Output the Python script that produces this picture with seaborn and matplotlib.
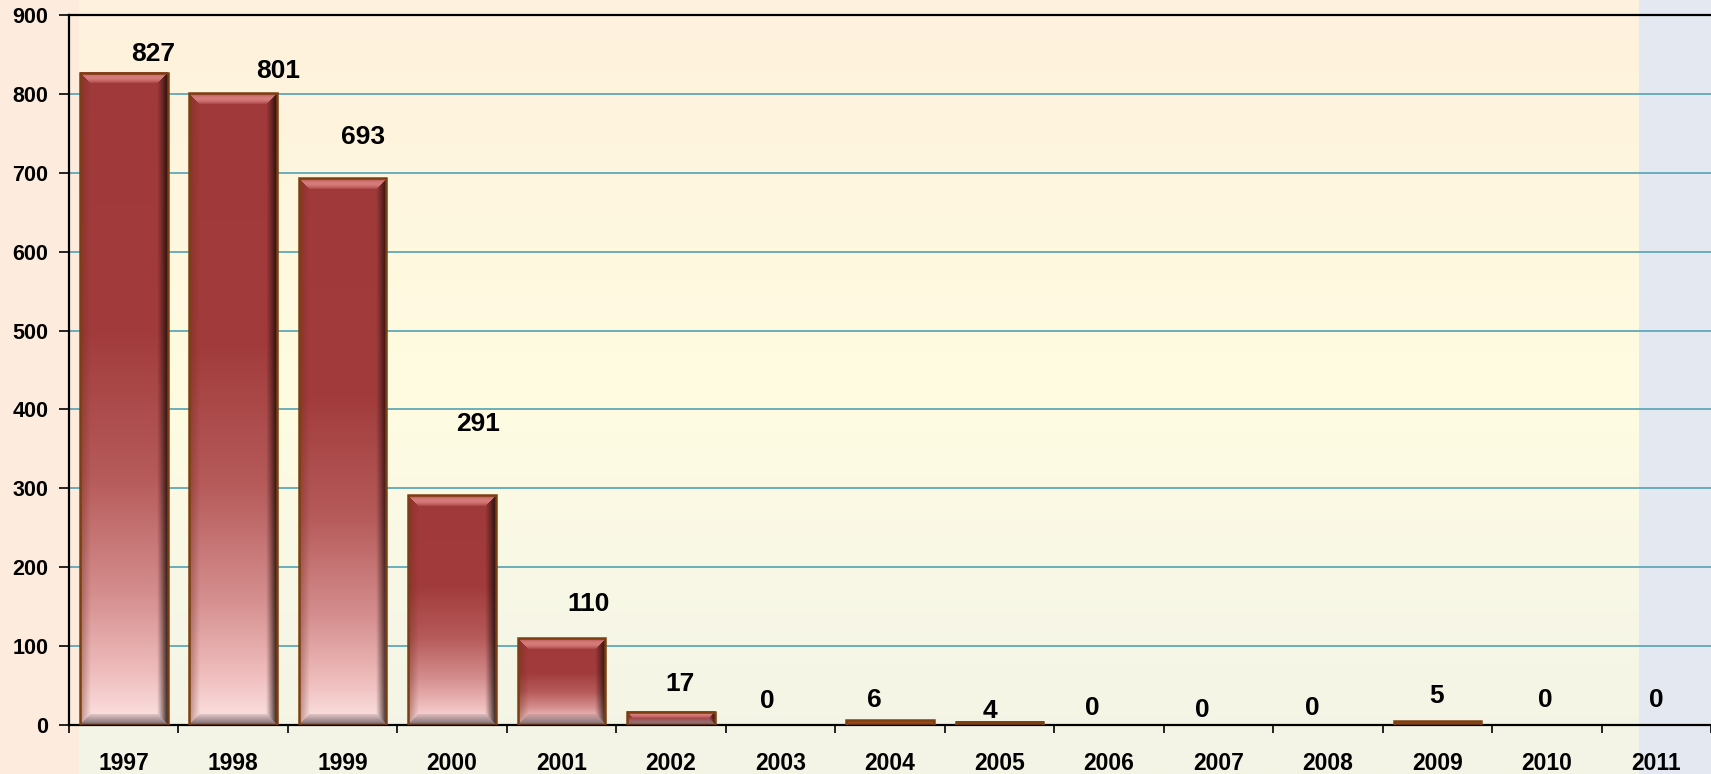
import numpy as np
import pandas as pd
import matplotlib
matplotlib.use("Agg")
import matplotlib.pyplot as plt
from matplotlib.colors import to_rgb
from matplotlib.patches import Rectangle
import seaborn as sns

# ---- data ----
years = ["1997", "1998", "1999", "2000", "2001", "2002", "2003", "2004",
         "2005", "2006", "2007", "2008", "2009", "2010", "2011"]
counts = [827, 801, 693, 291, 110, 17, 0, 6, 4, 0, 0, 0, 5, 0, 0]
y_ticks = [0, 100, 200, 300, 400, 500, 600, 700, 800, 900]

# value-label offsets from the top centre of each bar (pixels)
label_dx = [29, 45, 20, 26, 27, 9, -13, -16, -10, -17, -16, -16, -1, -1, 0]
label_dy = [21, 24, 43, 73, 36, 30, 26, 22, 13, 19, 17, 19, 27, 27, 27]

W_PX, H_PX, DPI = 1711, 774, 100
FONT = ["Liberation Sans", "DejaVu Sans"]

sns.set_theme(style="white")
plt.rcParams["font.family"] = FONT
plt.rcParams["font.weight"] = "bold"

fig = plt.figure(figsize=(W_PX / DPI, H_PX / DPI), dpi=DPI)
fig.patch.set_facecolor("#FDECDD")

# ---- slide background ----
bg = fig.add_axes([0, 0, 1, 1])
bg.set_zorder(0)
bg.set_xlim(0, W_PX)
bg.set_ylim(0, H_PX)
bg.axis("off")


def ramp(stops, n):
    pos = np.array([s[0] for s in stops])
    cols = np.array([to_rgb(s[1]) for s in stops])
    t = np.linspace(0, 1, n)
    return np.stack([np.interp(t, pos, cols[:, k]) for k in range(3)], axis=-1)


grad = ramp([(0.0, "#FEF1DD"), (0.5, "#FFFCE1"), (0.85, "#F6F6E7"),
             (1.0, "#F4F4E6")], 256)
bg.imshow(grad[:, None, :], extent=[79, 1639, 0, H_PX], aspect="auto",
          origin="upper", interpolation="bilinear")
bg.add_patch(Rectangle((1639, 0), W_PX - 1639, H_PX, color="#E4E9F1", lw=0))
bg.set_xlim(0, W_PX)
bg.set_ylim(0, H_PX)

# ---- chart axes ----
ax = fig.add_axes([69 / W_PX, 49 / H_PX, (W_PX - 69) / W_PX, (725 - 15) / H_PX])
ax.set_zorder(1)
ax.patch.set_visible(False)

df = pd.DataFrame({"year": years, "count": counts})
sns.barplot(data=df, x="year", y="count", ax=ax, width=0.8,
            color="#A03C3C", saturation=1)
ax.set_xlim(-0.5, len(years) - 0.5)
ax.set_ylim(0, 900)

BASE_STOPS = [(0.0, "#A03A3A"), (0.4, "#A23C3C"), (0.62, "#B65A5A"),
              (0.8, "#D58E8E"), (0.92, "#EFBDBD"), (1.0, "#FDE4E4")]


def bar_image(wpx, hpx, bevel=11):
    H = max(int(round(hpx)), 1)
    W = max(int(round(wpx)), 1)
    if H < 8:
        # very short bars read as a flat brown strip
        img = np.ones((H, W, 3)) * np.array(to_rgb("#9A4A1E"))
        return img
    base = ramp(BASE_STOPS, H)
    img = np.repeat(base[:, None, :], W, axis=1)
    i = np.arange(H)[:, None] + 0.5
    j = np.arange(W)[None, :] + 0.5
    dt = np.broadcast_to(i, (H, W))
    db = np.broadcast_to(H - i, (H, W))
    dl = np.broadcast_to(j, (H, W))
    dr = np.broadcast_to(W - j, (H, W))
    d = np.stack([dt, db, dl, dr])
    side = d.argmin(axis=0)
    dmin = d.min(axis=0)
    bb = max(min(bevel, H / 2, W / 2), 0.5)
    f = np.clip(dmin / bb, 0, 1)
    inside = dmin < bb

    def mix(mask, col, amt):
        c = np.array(to_rgb(col))
        a = np.where(mask, amt, 0.0)[..., None]
        return img * (1 - a) + c * a

    img = mix(inside & (side == 0), "#EC9494", 0.6 * np.sin(np.pi * f) + 0.12)
    img = mix(inside & (side == 1), "#5E4C52", 0.7 * (1 - f) + 0.15)
    img = mix(inside & (side == 2), "#6A2A14", 0.45 * (1 - f))
    img = mix(inside & (side == 3), "#1C0C06", 0.9 * (1 - f) ** 1.1)
    return np.clip(img, 0, 1)


to_px = ax.transData.transform
for p, v in zip(ax.patches, counts):
    x0, w = p.get_x(), p.get_width()
    if v <= 0:
        p.set_visible(False)
        continue
    (px0, py0) = to_px((x0, 0))
    (px1, py1) = to_px((x0 + w, v))
    img = bar_image(px1 - px0, py1 - py0)
    ax.imshow(img, extent=[x0, x0 + w, 0, v], aspect="auto", origin="upper",
              interpolation="bilinear", zorder=2)
    p.set_facecolor("none")
    p.set_edgecolor("#7B3F12")
    p.set_linewidth(1.8)
    p.set_zorder(3)

ax.set_xlim(-0.5, len(years) - 0.5)
ax.set_ylim(0, 900)

# ---- value labels ----
for i, v in enumerate(counts):
    ax.annotate(str(v), xy=(i, v), xytext=(label_dx[i], label_dy[i] - 9),
                textcoords="offset pixels", ha="center", va="baseline",
                fontsize=19, fontweight="bold", color="black", zorder=5)

# ---- grid, spines, ticks ----
ax.set_yticks(y_ticks)
ax.yaxis.grid(True, color="#5FA8B8", linewidth=1.3)
ax.xaxis.grid(False)
ax.set_axisbelow(True)
for s in ("left", "bottom", "top"):
    ax.spines[s].set_visible(True)
    ax.spines[s].set_color("black")
    ax.spines[s].set_linewidth(1.6)
ax.spines["right"].set_visible(False)

ax.set_xticks(np.arange(-0.5, len(years), 1.0), minor=True)
ax.tick_params(axis="x", which="minor", direction="out", length=6, width=1.2,
               color="black", bottom=True)
ax.tick_params(axis="x", which="major", length=0, pad=19.5, labelsize=16.5)
ax.tick_params(axis="y", which="major", direction="out", length=7, width=1.2,
               color="black", left=True, pad=8, labelsize=15.5)
for lab in ax.get_xticklabels() + ax.get_yticklabels():
    lab.set_fontweight("bold")
    lab.set_color("black")
ax.set_xlabel("")
ax.set_ylabel("")

fig.savefig("out.png", dpi=DPI, facecolor=fig.get_facecolor())
